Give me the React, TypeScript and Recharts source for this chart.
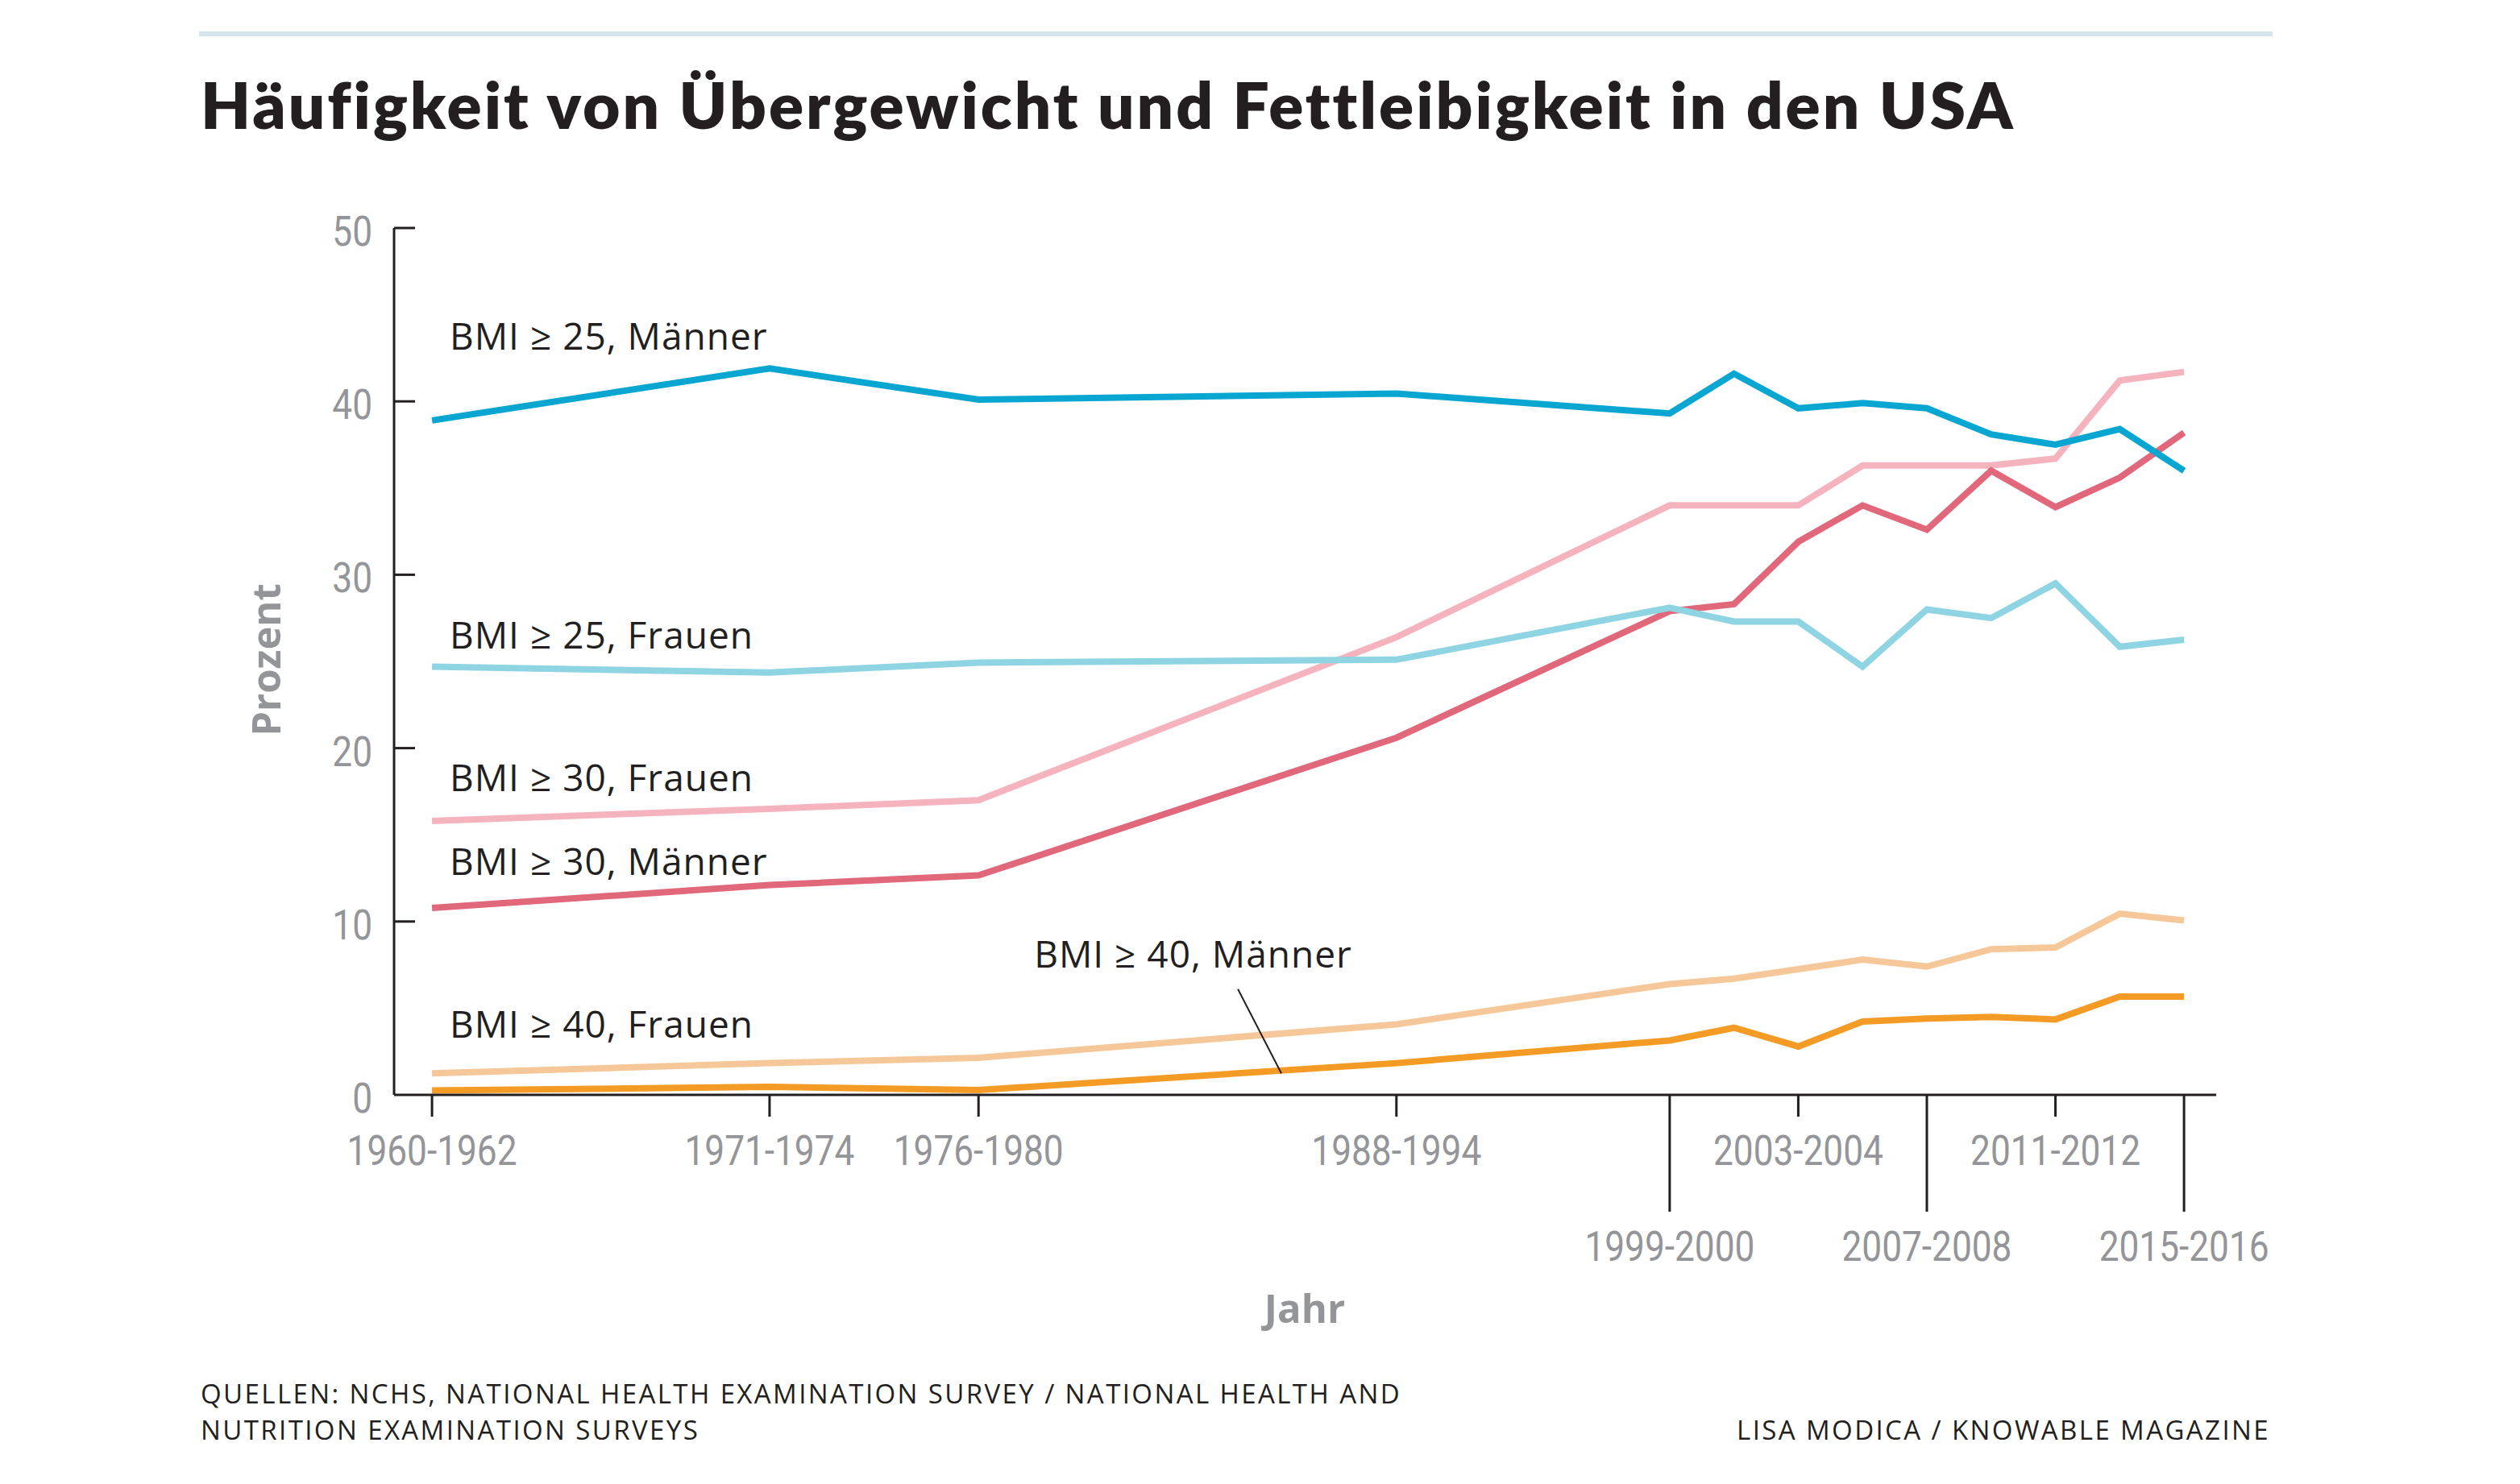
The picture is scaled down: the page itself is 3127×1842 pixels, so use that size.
import React from 'react';
import { LineChart, Line, XAxis, YAxis, ReferenceDot, ReferenceLine } from 'recharts';

// Survey periods and their horizontal positions (in years)
const periods = ['1960-1962', '1971-1974', '1976-1980', '1988-1994', '1999-2000', '2001-2002', '2003-2004', '2005-2006', '2007-2008', '2009-2010', '2011-2012', '2013-2014', '2015-2016'];
const periodPos = [1961.5, 1972, 1978.5, 1991.5, 2000, 2002, 2004, 2006, 2008, 2010, 2012, 2014, 2016];

// Series values (percent)
const bmi25Men = [38.9, 41.9, 40.1, 40.45, 39.3, 41.6, 39.6, 39.9, 39.6, 38.1, 37.5, 38.4, 36.0];
const bmi25Women = [24.7, 24.36, 24.93, 25.1, 28.1, 27.3, 27.3, 24.7, 28.0, 27.5, 29.5, 25.85, 26.25];
const bmi30Women = [15.8, 16.5, 17.0, 26.4, 34.0, 34.0, 34.0, 36.3, 36.3, 36.3, 36.7, 41.2, 41.7];
const bmi30Men = [10.78, 12.1, 12.66, 20.6, 27.9, 28.3, 31.9, 34.0, 32.6, 36.0, 33.9, 35.6, 38.2];
const bmi40Women = [1.24, 1.83, 2.14, 4.07, 6.39, 6.7, 7.25, 7.8, 7.4, 8.4, 8.5, 10.45, 10.06];
const bmi40Men = [0.25, 0.46, 0.28, 1.83, 3.14, 3.87, 2.79, 4.23, 4.4, 4.5, 4.35, 5.67, 5.67];

// Axis ticks
const xTickLabels = ['1960-1962', '1971-1974', '1976-1980', '1988-1994', '1999-2000', '2003-2004', '2007-2008', '2011-2012', '2015-2016'];
const longTickLabels = ['1999-2000', '2007-2008', '2015-2016'];
const yTicks = [0, 10, 20, 30, 40, 50];

// Direct labels (text, anchor in data coordinates)
const seriesLabels = [
  { text: 'BMI ≥ 25, Männer', x: 1962.05, y: 42.98 },
  { text: 'BMI ≥ 25, Frauen', x: 1962.05, y: 25.75 },
  { text: 'BMI ≥ 30, Frauen', x: 1962.05, y: 17.5 },
  { text: 'BMI ≥ 30, Männer', x: 1962.05, y: 12.7 },
  { text: 'BMI ≥ 40, Frauen', x: 1962.05, y: 3.3 },
  { text: 'BMI ≥ 40, Männer', x: 1980.23, y: 7.35 },
];
const leader = [{ x: 1986.57, y: 6.1 }, { x: 1987.92, y: 1.24 }];

const rows = periodPos.map((p, i) => ({
  pos: p,
  period: periods[i],
  m25: bmi25Men[i],
  w25: bmi25Women[i],
  w30: bmi30Women[i],
  m30: bmi30Men[i],
  w40: bmi40Women[i],
  m40: bmi40Men[i],
}));

const xTickPos = xTickLabels.map((l) => periodPos[periods.indexOf(l)]);

const INK = '#231f20';
const GRAY = '#939598';
const TICK_FONT = 'Roboto, "Noto Sans", sans-serif';
const LABEL_FONT = '"Open Sans", "Noto Sans", sans-serif';

const XTick = (props: any) => {
  const { x, y, payload } = props;
  const idx = periodPos.indexOf(payload.value);
  const label = periods[idx];
  const isLong = longTickLabels.includes(label);
  const len = isLong ? 145 : 27;
  const ty = y + (isLong ? 206 : 87);
  return (
    <g>
      <line x1={x} x2={x} y1={y} y2={y + len} stroke={INK} strokeWidth={3} />
      <text
        transform={`translate(${x},${ty}) scale(0.85,1)`}
        textAnchor="middle"
        fontFamily={TICK_FONT}
        fontSize={52}
        fill={GRAY}
      >
        {label}
      </text>
    </g>
  );
};

const YTick = (props: any) => {
  const { x, y, payload } = props;
  return (
    <g>
      {payload.value !== 0 && <line x1={x} x2={x + 26} y1={y} y2={y} stroke={INK} strokeWidth={3} />}
      <text
        transform={`translate(${x - 27},${y + 22}) scale(0.85,1)`}
        textAnchor="end"
        fontFamily={TICK_FONT}
        fontSize={52}
        fill={GRAY}
      >
        {payload.value}
      </text>
    </g>
  );
};

const makeLabel = (text: string) => (props: any) => {
  const { viewBox } = props;
  const cx = viewBox.x + viewBox.width / 2;
  const cy = viewBox.y + viewBox.height / 2;
  return (
    <text x={cx} y={cy} textAnchor="start" fontFamily={LABEL_FONT} fontSize={46} letterSpacing={1} fill={INK}>
      {text}
    </text>
  );
};

const series = [
  { key: 'w30', color: '#f5b3be' },
  { key: 'm30', color: '#e0687a' },
  { key: 'w25', color: '#8ed4e2' },
  { key: 'm25', color: '#0aa6d2' },
  { key: 'w40', color: '#f6c899' },
  { key: 'm40', color: '#f39b24' },
];

export default function App() {
  const W = 3111;
  const H = 1826;
  return (
    <div style={{ position: 'relative', width: W, height: H, background: '#fff' }}>
      <svg width={W} height={H} style={{ position: 'absolute', left: 0, top: 0 }}>
        <rect x={239} y={31} width={2573} height={6} fill="#d5e6ea" />
        <text x={241} y={152} fontFamily='Lato, "Open Sans", sans-serif' fontWeight={800} fontSize={80} letterSpacing={3} fill={INK}>
          Häufigkeit von Übergewicht und Fettleibigkeit in den USA
        </text>
        <text
          transform="translate(340,811) rotate(-90)"
          textAnchor="middle"
          fontFamily={LABEL_FONT}
          fontWeight={700}
          fontSize={49}
          fill={GRAY}
        >
          Prozent
        </text>
        <text x={1611} y={1634} textAnchor="middle" fontFamily={LABEL_FONT} fontWeight={700} fontSize={49} fill={GRAY}>
          Jahr
        </text>
        <text x={241} y={1734} fontFamily={LABEL_FONT} fontSize={33} letterSpacing={2.4} fill={INK}>
          QUELLEN: NCHS, NATIONAL HEALTH EXAMINATION SURVEY / NATIONAL HEALTH AND
        </text>
        <text x={241} y={1779} fontFamily={LABEL_FONT} fontSize={33} letterSpacing={2.4} fill={INK}>
          NUTRITION EXAMINATION SURVEYS
        </text>
        <text x={2809} y={1779} textAnchor="end" fontFamily={LABEL_FONT} fontSize={33} letterSpacing={2.4} fill={INK}>
          LISA MODICA / KNOWABLE MAGAZINE
        </text>
      </svg>
      <div style={{ position: 'absolute', left: 0, top: 0 }}>
        <LineChart width={W} height={H} data={rows} margin={{ top: 275, right: 369, bottom: 474, left: 480 }}>
          <XAxis
            dataKey="pos"
            type="number"
            domain={[1960.32, 2017.0]}
            allowDataOverflow
            ticks={xTickPos}
            interval={0}
            height={1}
            tickSize={0}
            tickMargin={0}
            tickLine={false}
            axisLine={{ stroke: INK, strokeWidth: 3 }}
            tick={<XTick />}
          />
          <YAxis
            type="number"
            domain={[0, 50]}
            ticks={yTicks}
            interval={0}
            width={1}
            tickSize={0}
            tickMargin={0}
            tickLine={false}
            axisLine={{ stroke: INK, strokeWidth: 3 }}
            tick={<YTick />}
          />
          {series.map((s) => (
            <Line
              key={s.key}
              dataKey={s.key}
              type="linear"
              stroke={s.color}
              strokeWidth={8}
              dot={false}
              activeDot={false}
              isAnimationActive={false}
            />
          ))}
          <ReferenceLine segment={leader} stroke={INK} strokeWidth={2} ifOverflow="visible" />
          {seriesLabels.map((l) => (
            <ReferenceDot
              key={l.text}
              x={l.x}
              y={l.y}
              r={0}
              fill="none"
              stroke="none"
              ifOverflow="visible"
              label={makeLabel(l.text)}
            />
          ))}
        </LineChart>
      </div>
    </div>
  );
}
